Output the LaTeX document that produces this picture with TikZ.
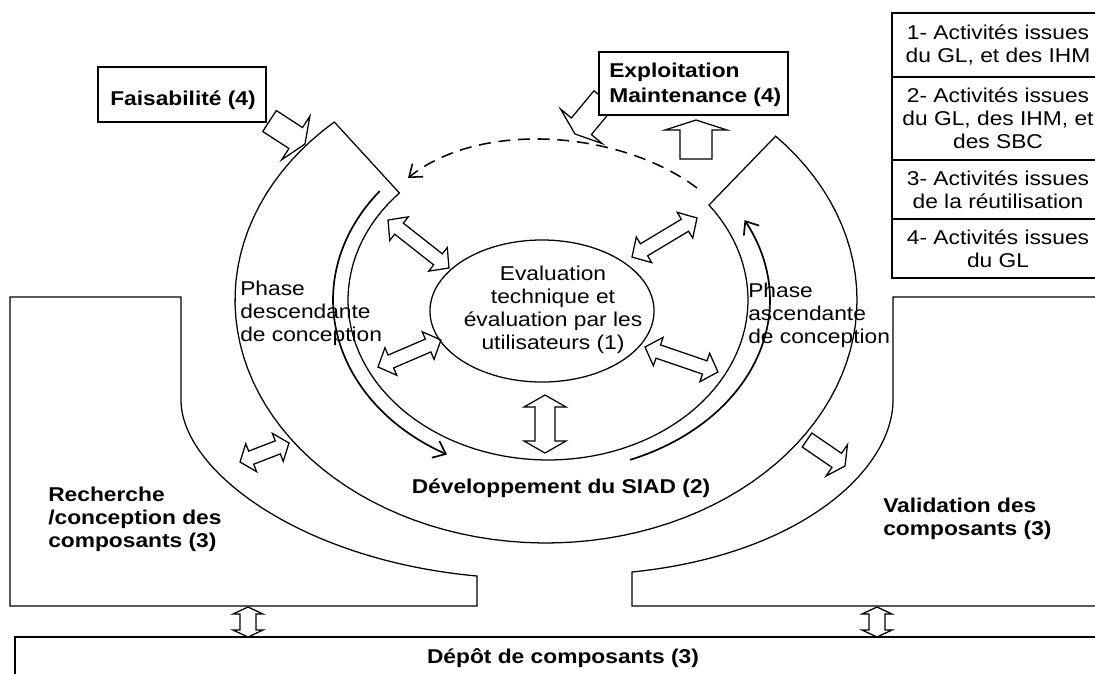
\documentclass[tikz,border=0pt]{standalone}
\usepackage{fontspec}
\setmainfont{Liberation Sans}[FakeStretch=1.14]
\usetikzlibrary{arrows.meta,shapes.geometric}

\newcommand{\lblfont}{\fontsize{14.2pt}{16.4pt}\selectfont}

% hollow block arrows: x1 y1 x2 y2 headlength headhalfwidth shafthalfwidth
\newcommand{\blockarrow}[7]{%
  \pgfmathsetmacro{\arrang}{atan2(-((#4)-(#2)),(#3)-(#1))}%
  \pgfmathsetmacro{\arrlen}{veclen((#3)-(#1),(#4)-(#2))}%
  \pgfmathsetmacro{\arrbase}{\arrlen-(#5)}%
  \draw[hollow,shift={(#1,#2)},rotate=\arrang] (0,#7) -- (\arrbase,#7) -- (\arrbase,#6)
    -- (\arrlen,0) -- (\arrbase,-#6) -- (\arrbase,-#7) -- (0,-#7) -- cycle;}
\newcommand{\dblarrow}[7]{%
  \pgfmathsetmacro{\arrang}{atan2(-((#4)-(#2)),(#3)-(#1))}%
  \pgfmathsetmacro{\arrlen}{veclen((#3)-(#1),(#4)-(#2))}%
  \pgfmathsetmacro{\arrbase}{\arrlen-(#5)}%
  \draw[hollow,shift={(#1,#2)},rotate=\arrang] (0,0) -- (#5,#6) -- (#5,#7) -- (\arrbase,#7)
    -- (\arrbase,#6) -- (\arrlen,0) -- (\arrbase,-#6) -- (\arrbase,-#7) -- (#5,-#7) -- (#5,-#6) -- cycle;}

\tikzset{
  outline/.style={draw, line width=0.9pt},
  hollow/.style={draw, fill=white, line width=0.9pt, line join=miter},
  txt/.style={font=\lblfont, inner sep=0pt},
  boldtxt/.style={font=\lblfont\bfseries, inner sep=0pt},
  box/.style={draw, fill=white, line width=0.9pt, inner sep=0pt},
  phase/.style={line width=1.2pt, -{Straight Barb[length=8pt,width=13pt]}},
}

\begin{document}
\begin{tikzpicture}[x=0.025cm, y=-0.025cm]
  \useasboundingbox (0,0) rectangle (1095,673);
  \clip (0,0) rectangle (1095,673);

  % side blocks and repository
  \draw[outline] (10,297) -- (181,297) -- (181,400) .. controls (181,470) and (300,560) .. (477,576)
    -- (477,606) -- (10,606) -- cycle;
  \draw[outline] (1110,297) -- (893,297) -- (893,400) .. controls (893,470) and (800,555) .. (632,572)
    -- (632,606) -- (1110,606);
  \draw[outline] (1110,637) -- (15,637) -- (15,690);

  % development ring
  \draw[outline] plot[domain=227.1:-42.4, samples=90] ({546+311*cos(\x)},{300+243*sin(\x)})
    -- plot[domain=-36.4:222, samples=90] ({548+200*cos(\x)},{300+160*sin(\x)}) -- cycle;

  % phases
  \draw[phase] plot[domain=218.5:118, samples=60] ({548+215*cos(\x)},{300+175*sin(\x)});
  \draw[phase] plot[domain=68.3:-27.7, samples=60] ({548+222*cos(\x)},{300+172*sin(\x)});

  % return to design
  \coordinate (dashS) at (697,188);
  \coordinate (dashE) at (408,178);
  \draw[line width=1.1pt, dash pattern=on 8.5pt off 5.5pt, -{Straight Barb[length=8pt,width=12pt]}]
    (dashS) .. controls (620,130) and (480,120) .. (dashE);

  % block arrows
  \blockarrow{269.5}{121}{305}{144}{11}{26}{12.5}
  \blockarrow{604}{99}{575}{134}{10}{27}{13}
  \blockarrow{696}{159}{696}{120}{10}{31}{16}
  \blockarrow{807}{440}{845}{466}{10}{19}{8.5}
  \dblarrow{388}{220}{449}{268}{14}{15}{7}
  \dblarrow{632}{257}{697}{218}{14}{15}{7}
  \dblarrow{378}{367}{441}{340}{14}{15}{7}
  \dblarrow{645}{347}{718}{372}{14}{15}{7}
  \dblarrow{545}{395}{545}{453}{12}{21}{10}
  \dblarrow{240}{462}{289}{443}{12}{15}{7}
  \dblarrow{248}{607}{248}{637}{7}{15}{8}
  \dblarrow{877}{607}{877}{637}{7}{15}{8}

  % evaluation
  \node[draw, ellipse, line width=0.9pt, minimum width=5.6cm, minimum height=3.55cm, inner sep=0pt]
    (eval) at (542,311) {};
  \node[txt, align=center] (evaltxt) at (553,309.5)
    {Evaluation\\technique et\\évaluation par les\\utilisateurs (1)};

  % boxes
  \node[box, minimum width=4.2cm, minimum height=1.375cm] (faisab) at (182,94.5) {};
  \node[boldtxt, anchor=base] (faisabtxt) at (183,105) {Faisabilité (4)};
  \node[box, minimum width=4.725cm, minimum height=1.575cm] (exploit) at (693.5,83.5) {};
  \node[boldtxt, align=left, anchor=north west] (exploittxt) at (609,62.4)
    {Exploitation\\[1.4pt]Maintenance (4)};

  % labels
  \node[txt, align=left, anchor=north west] (descph) at (240,280.5) {Phase\\descendante\\de conception};
  \node[txt, align=left, anchor=north west] (ascph) at (748,282.5) {Phase\\ascendante\\de conception};
  \node[boldtxt, anchor=base] (dev) at (561,493) {Développement du SIAD (2)};
  \begin{scope}
    \clip (0,0) rectangle (400,551);
    \node[boldtxt, align=left, anchor=north west] (rech) at (48,487) {Recherche\\/conception des\\composants (3)};
  \end{scope}
  \node[boldtxt, align=left, anchor=north west] (valid) at (883,497.4) {Validation des\\composants (3)};
  \node[boldtxt, anchor=base] (depot) at (563,663) {Dépôt de composants (3)};

  % legend
  \draw[outline] (892,13) rectangle (1104,278);
  \foreach \y in {77,160,219}
    \draw[outline] (892,\y) -- (1104,\y);
  \node[txt, align=center] (leg1) at (998,45) {1- Activités issues\\du GL, et des IHM};
  \node[txt, align=center] (leg2) at (998,118.5) {2- Activités issues\\du GL, des IHM, et\\des SBC};
  \node[txt, align=center] (leg3) at (998,189.5) {3- Activités issues\\de la réutilisation};
  \node[txt, align=center] (leg4) at (998,248.5) {4- Activités issues\\du GL};
\end{tikzpicture}
\end{document}
